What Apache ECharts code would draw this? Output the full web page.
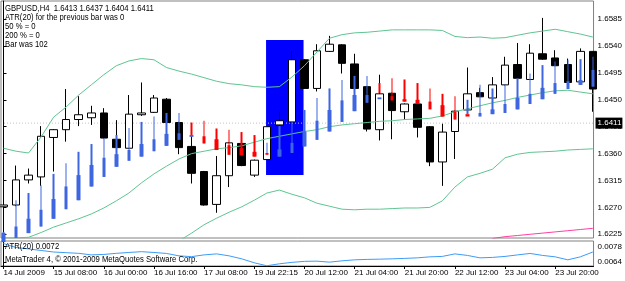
<!DOCTYPE html>
<html>
<head>
<meta charset="utf-8">
<script src="https://cdn.jsdelivr.net/npm/echarts@6/dist/echarts.min.js"></script>
<style>
html, body { margin: 0; padding: 0; background: #fff; }
#grafico { width: 625px; height: 281px; }
</style>
</head>
<body>
<div id="grafico"></div>
<script>
/* GBPUSD H4 - candles, bandas, indicador e ATR(20) */
var FONT = '"Liberation Sans", Arial, sans-serif';

// candles (1 por barra H4)
var opens  = [1.6271,1.6274,1.6316,1.6321,1.6387,1.6400,1.6417,1.6420,1.6428,1.6384,1.6369,1.6425,1.6429,1.6451,1.6412,1.6372,1.6330,1.6275,1.6323,1.6377,1.6324,1.6350,1.6408,1.6413,1.6517,1.6469,1.6531,1.6542,1.6510,1.6472,1.6400,1.6461,1.6430,1.6443,1.6405,1.6346,1.6397,1.6433,1.6462,1.6453,1.6475,1.6509,1.6484,1.6527,1.6520,1.6509,1.6480,1.6531];
var closes = [1.6274,1.6316,1.6324,1.6389,1.6400,1.6417,1.6425,1.6428,1.6386,1.6370,1.6426,1.6428,1.6453,1.6412,1.6370,1.6327,1.6274,1.6323,1.6378,1.6340,1.6349,1.6405,1.6415,1.6517,1.6469,1.6532,1.6543,1.6511,1.6469,1.6401,1.6460,1.6432,1.6443,1.6404,1.6346,1.6396,1.6431,1.6460,1.6455,1.6475,1.6508,1.6486,1.6528,1.6518,1.6507,1.6479,1.6531,1.6468];
var lows   = [1.6217,1.6272,1.6310,1.6306,1.6330,1.6380,1.6406,1.6408,1.6385,1.6369,1.6368,1.6423,1.6428,1.6411,1.6359,1.6310,1.6273,1.6261,1.6304,1.6339,1.6321,1.6350,1.6405,1.6413,1.6469,1.6464,1.6530,1.6494,1.6469,1.6397,1.6382,1.6384,1.6417,1.6387,1.6339,1.6306,1.6351,1.6432,1.6455,1.6452,1.6474,1.6486,1.6484,1.6517,1.6507,1.6479,1.6480,1.6430];
var highs  = [1.6319,1.6340,1.6335,1.6406,1.6401,1.6468,1.6456,1.6440,1.6436,1.6416,1.6458,1.6479,1.6458,1.6453,1.6413,1.6389,1.6331,1.6356,1.6379,1.6379,1.6350,1.6405,1.6430,1.6531,1.6518,1.6543,1.6557,1.6543,1.6527,1.6473,1.6492,1.6462,1.6444,1.6443,1.6406,1.6410,1.6432,1.6504,1.6470,1.6488,1.6522,1.6545,1.6543,1.6587,1.6533,1.6519,1.6536,1.6531];

// indicador (haste fina + corpo grosso, azul/vermelho)
var tailHi = [1.6229,1.6282,1.6294,1.6307,1.6326,1.6344,1.6363,1.6376,1.6386,1.6391,1.6403,1.6413,1.6422,1.6428,1.6428,1.6412,1.6415,1.6402,1.6400,1.6396,1.6391,1.6378,1.6406,1.6413,1.6433,1.6453,1.6469,1.6483,1.6490,1.6490,1.6478,1.6486,1.6484,1.6478,1.6469,1.6460,1.6456,1.6450,1.6475,1.6469,1.6476,1.6486,1.6494,1.6508,1.6514,1.6517,1.6518,1.6522];
var tailLo = [1.6212,1.6219,1.6227,1.6238,1.6251,1.6267,1.6282,1.6305,1.6321,1.6338,1.6348,1.6355,1.6364,1.6373,1.6383,1.6389,1.6377,1.6366,1.6358,1.6357,1.6355,1.6361,1.6355,1.6361,1.6372,1.6383,1.6397,1.6413,1.6431,1.6445,1.6461,1.6449,1.6447,1.6443,1.6434,1.6422,1.6417,1.6426,1.6425,1.6426,1.6428,1.6434,1.6443,1.6451,1.6460,1.6468,1.6475,1.6472];
var bodyHi = [1.6227,1.6238,1.6251,1.6266,1.6284,1.6305,1.6324,1.6341,1.6353,1.6359,1.6366,1.6376,1.6384,1.6393,1.6394,1.6391,1.6389,1.6384,1.6374,1.6369,1.6363,1.6361,1.6367,1.6378,1.6397,1.6415,1.6433,1.6449,1.6458,1.6458,1.6454,1.6456,1.6451,1.6450,1.6447,1.6441,1.6430,1.6426,1.6428,1.6434,1.6443,1.6453,1.6460,1.6470,1.6478,1.6481,1.6483,1.6500];
var bodyLo = [1.6212,1.6219,1.6227,1.6238,1.6251,1.6267,1.6282,1.6305,1.6321,1.6338,1.6348,1.6355,1.6364,1.6373,1.6383,1.6388,1.6377,1.6366,1.6358,1.6357,1.6355,1.6358,1.6355,1.6361,1.6372,1.6383,1.6397,1.6413,1.6431,1.6445,1.6451,1.6449,1.6447,1.6443,1.6434,1.6422,1.6417,1.6422,1.6422,1.6426,1.6428,1.6434,1.6443,1.6451,1.6460,1.6468,1.6475,1.6472];
var tailDir = 'BBBBBBBBBBBBBBBRRRRRRBBBBBBBBBRRRRRRRBBBBBBBBBBB'.split('');
var bodyDir = 'BBBBBBBBBBBBBBBBRRRRRRBBBBBBBBBRRRRRRRBBBBBBBBBB'.split('');

// bandas (verde) e media rosa
var upper  = [1.6369,1.6364,1.6361,1.6388,1.6421,1.6438,1.6458,1.6475,1.6492,1.6507,1.6515,1.6519,1.6517,1.6504,1.6498,1.6493,1.6487,1.6481,1.6477,1.6475,1.6472,1.6471,1.6472,1.6488,1.6507,1.6530,1.6553,1.6559,1.6562,1.6563,1.6565,1.6567,1.6567,1.6567,1.6567,1.6566,1.6556,1.6554,1.6555,1.6553,1.6554,1.6558,1.6562,1.6565,1.6568,1.6564,1.6560,1.6555];
var middle = [1.6219,1.6219,1.6220,1.6228,1.6237,1.6244,1.6251,1.6259,1.6269,1.6281,1.6294,1.6311,1.6326,1.6339,1.6351,1.6360,1.6364,1.6368,1.6370,1.6373,1.6379,1.6385,1.6389,1.6393,1.6397,1.6400,1.6405,1.6408,1.6410,1.6412,1.6414,1.6415,1.6417,1.6418,1.6419,1.6423,1.6430,1.6435,1.6440,1.6445,1.6449,1.6454,1.6458,1.6462,1.6465,1.6466,1.6463,1.6460];
var lower  = [null,null,null,null,null,null,null,null,null,null,null,null,null,1.6179,1.6214,1.6227,1.6241,1.6252,1.6262,1.6271,1.6282,1.6294,1.6299,1.6292,1.6286,1.6277,1.6272,1.6267,1.6266,1.6267,1.6267,1.6268,1.6269,1.6269,1.6270,1.6281,1.6304,1.6321,1.6327,1.6334,1.6353,1.6359,1.6362,1.6363,1.6364,1.6366,1.6367,1.6368];
var pinkMa = [null,null,null,null,null,null,null,null,null,null,null,null,null,null,null,null,null,null,null,null,null,null,null,null,null,null,null,null,null,null,null,null,null,null,null,null,null,null,null,1.6218,1.6221,1.6223,1.6225,1.6227,1.6229,1.6231,1.6233,1.6235];

// ATR(20)
var atr = [0.00809,0.00773,0.00760,0.00746,0.00732,0.00726,0.00720,0.00706,0.00710,0.00720,0.00728,0.00735,0.00728,0.00719,0.00697,0.00690,0.00706,0.00715,0.00697,0.00670,0.00634,0.00607,0.00625,0.00638,0.00647,0.00649,0.00640,0.00652,0.00661,0.00665,0.00667,0.00670,0.00674,0.00679,0.00688,0.00692,0.00715,0.00701,0.00679,0.00683,0.00692,0.00706,0.00719,0.00701,0.00688,0.00661,0.00688,0.00732];

// eixos
var timeBars   = [0,4,8,12,16,20,24,28,32,36,40,44];
var timeLabels = ['14 Jul 2009','15 Jul 08:00','16 Jul 00:00','16 Jul 16:00','17 Jul 08:00','19 Jul 22:15','20 Jul 12:00','21 Jul 04:00','21 Jul 20:00','22 Jul 12:00','23 Jul 04:00','23 Jul 20:00'];
var priceTicks = [1.6225,1.6270,1.6315,1.6360,1.6405,1.6450,1.6495,1.6540,1.6585];
var atrTicks   = [0.0064,0.0078];
var bidPrice   = 1.6411;

// retangulo azul
var boxBars   = [20.94, 23.93];
var boxPrices = [1.6324, 1.6550];

// textos
var infoLines = ['GBPUSD,H4  1.6413 1.6437 1.6404 1.6411', 'ATR(20) for the previous bar was 0', '50 % = 0', '200 % = 0', 'Bar was 102'];
var atrTitle  = 'ATR(20) 0.0072';
var copyright = 'MetaTrader 4, \u00a9 2001-2009 MetaQuotes Software Corp.';

var BLUE = '#3d66e0', RED = '#ff0000', GREEN = '#5fc591';
var X_MIN = -0.199, X_MAX = 47.056;

function pts(arr) {
    return arr.map(function (v, i) { return [i, v]; });
}
function colorOf(c) { return c === 'R' ? RED : BLUE; }
function txt(t, x, y) {
    return { type: 'text', x: x, y: y, scaleX: 0.81, style: { text: t, font: '9.5px ' + FONT, fill: '#000', verticalAlign: 'middle' }, z: 20 };
}

var candleData = opens.map(function (o, i) { return [i, o, closes[i], lows[i], highs[i]]; });
var tailData = tailLo.map(function (lo, i) {
    var c = colorOf(tailDir[i]);
    return { value: [i, lo, tailHi[i], lo, tailHi[i]], itemStyle: { color: c, color0: c, borderColor: c, borderColor0: c } };
});
var bodyData = bodyLo.map(function (lo, i) {
    var c = colorOf(bodyDir[i]);
    return { value: [i, lo, bodyHi[i], lo, bodyHi[i]], itemStyle: { color: c, color0: c, borderColor: c, borderColor0: c } };
});

var graphics = infoLines.map(function (t, i) { return txt(t, 5, 8.3 + i * 9.1); });
graphics.push(txt(atrTitle, 5, 246));
graphics.push(txt(copyright, 5, 259));

var dom = document.getElementById('grafico');
var myChart = echarts.init(dom, null, { renderer: 'canvas' });

var axisFont = { fontSize: 8, color: '#000', fontFamily: FONT };

var option = {
    animation: false,
    backgroundColor: '#fff',
    textStyle: { fontFamily: FONT },
    grid: [
        { left: 1, top: 1, width: 594, height: 237, show: true, borderColor: '#808080', borderWidth: 1 },
        { left: 1, top: 241, width: 594, height: 25, show: true, borderColor: '#808080', borderWidth: 1 }
    ],
    xAxis: [
        { type: 'value', gridIndex: 0, min: X_MIN, max: X_MAX, show: false },
        {
            type: 'value', gridIndex: 1, min: X_MIN, max: X_MAX,
            axisLine: { show: true, onZero: false, lineStyle: { color: '#000' } },
            axisTick: { show: true, customValues: timeBars, length: 3, lineStyle: { color: '#000' } },
            axisLabel: Object.assign({
                customValues: timeBars, align: 'left', margin: 3,
                formatter: function (v) { return timeLabels[timeBars.indexOf(Math.round(v))]; }
            }, axisFont),
            splitLine: { show: false }
        }
    ],
    yAxis: [
        {
            type: 'value', gridIndex: 0, position: 'right', min: 1.62188, max: 1.66153, scale: true,
            axisLine: { show: true, lineStyle: { color: '#000' } },
            axisTick: { show: true, customValues: priceTicks, length: 3, lineStyle: { color: '#000' } },
            axisLabel: Object.assign({
                customValues: priceTicks, margin: 4,
                formatter: function (v) { return v.toFixed(4); }
            }, axisFont),
            splitLine: { show: false }
        },
        {
            type: 'value', gridIndex: 1, position: 'right', min: 0.00605, max: 0.00832, scale: true,
            axisLine: { show: true, lineStyle: { color: '#000' } },
            axisTick: { show: true, customValues: atrTicks, length: 3, lineStyle: { color: '#000' } },
            axisLabel: Object.assign({
                customValues: atrTicks, margin: 4,
                formatter: function (v) { return v.toFixed(4); }
            }, axisFont),
            splitLine: { show: false }
        }
    ],
    series: [
        {
            name: 'box', type: 'line', xAxisIndex: 0, yAxisIndex: 0, data: [], z: 1, silent: true,
            markArea: {
                silent: true,
                itemStyle: { color: '#0000ff', opacity: 1 },
                data: [[{ xAxis: boxBars[0], yAxis: boxPrices[1] }, { xAxis: boxBars[1], yAxis: boxPrices[0] }]]
            }
        },
        {
            // linha do preco atual (bid) com etiqueta no eixo
            name: 'bid', type: 'line', xAxisIndex: 0, yAxisIndex: 0, z: 1.5, silent: true,
            data: [[X_MIN, bidPrice], [X_MAX, bidPrice]],
            showSymbol: false, symbol: 'none',
            lineStyle: { color: '#c4c0d0', type: [1, 2], width: 1 },
            endLabel: Object.assign({
                show: true, distance: 2, formatter: bidPrice.toFixed(4),
                backgroundColor: '#000', padding: [2, 1, 1, 2]
            }, axisFont, { color: '#fff' })
        },
        {
            name: 'candles', type: 'candlestick', xAxisIndex: 0, yAxisIndex: 0, z: 2,
            data: candleData, encode: { x: 0, y: [1, 2, 3, 4] },
            barWidth: 8,
            itemStyle: { color: '#fff', color0: '#000', borderColor: '#000', borderColor0: '#000', borderWidth: 1 }
        },
        { name: 'upper', type: 'line', data: pts(upper), showSymbol: false, lineStyle: { color: GREEN, width: 1 }, z: 3, silent: true },
        { name: 'middle', type: 'line', data: pts(middle), showSymbol: false, lineStyle: { color: GREEN, width: 1 }, z: 3, silent: true },
        { name: 'lower', type: 'line', data: pts(lower), showSymbol: false, lineStyle: { color: GREEN, width: 1 }, z: 3, silent: true },
        { name: 'ma', type: 'line', data: pts(pinkMa), showSymbol: false, lineStyle: { color: '#ff3fa0', width: 1 }, z: 3, silent: true },
        {
            name: 'tail', type: 'candlestick', xAxisIndex: 0, yAxisIndex: 0, z: 4, silent: true,
            data: tailData, encode: { x: 0, y: [1, 2, 3, 4] }, barWidth: 2,
            itemStyle: { borderWidth: 0 }
        },
        {
            name: 'body', type: 'candlestick', xAxisIndex: 0, yAxisIndex: 0, z: 5, silent: true,
            data: bodyData, encode: { x: 0, y: [1, 2, 3, 4] }, barWidth: 4,
            itemStyle: { borderWidth: 0 }
        },
        {
            name: 'ATR(20)', type: 'line', xAxisIndex: 1, yAxisIndex: 1, data: pts(atr),
            showSymbol: false, lineStyle: { color: '#3d9cf5', width: 1 }, silent: true
        }
    ],
    graphic: graphics
};

if (option && typeof option === 'object') {
    myChart.setOption(option, true);
}
</script>
</body>
</html>
